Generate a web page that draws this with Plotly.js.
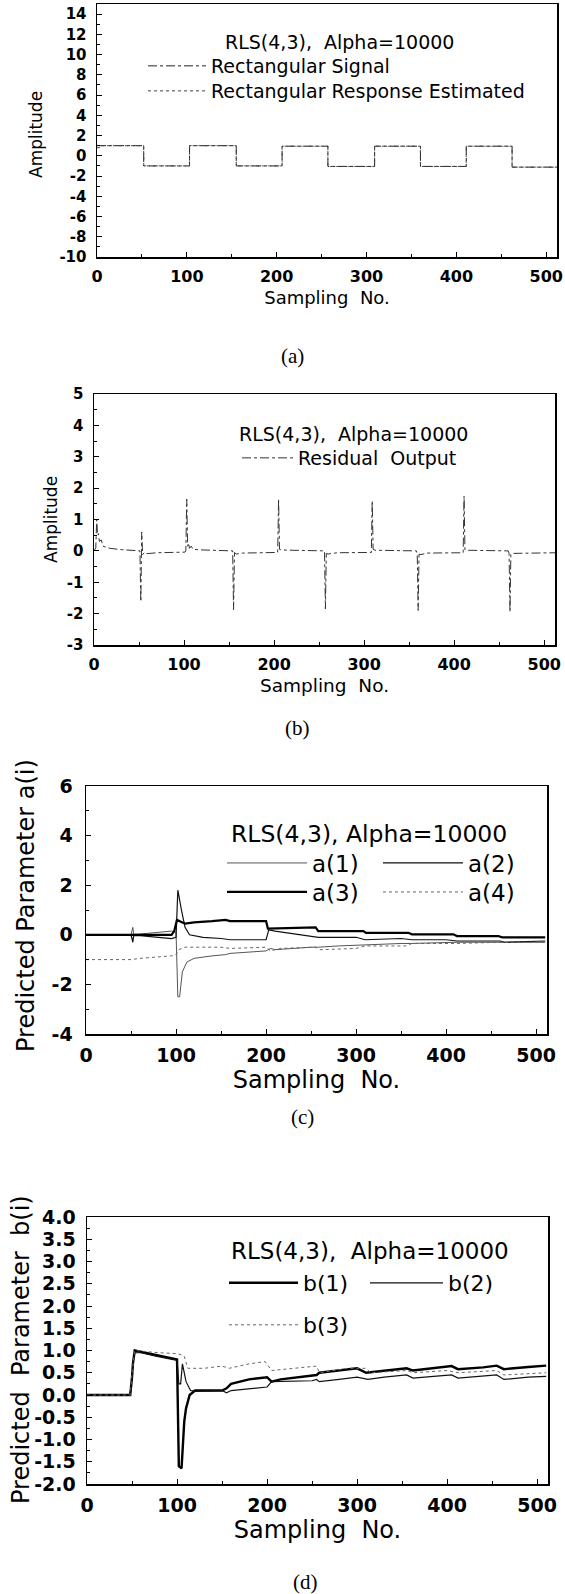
<!DOCTYPE html>
<html>
<head>
<meta charset="utf-8">
<script src="https://cdn.plot.ly/plotly-3.0.1.min.js"></script>
<style>html,body{margin:0;padding:0;background:#fff}#chart{width:565px;height:1594px}</style>
</head>
<body>
<div id="chart"></div>
<script>
// ---------- tick labels ----------
const xTickVals = [0, 100, 200, 300, 400, 500];
const xTickText = ['0', '100', '200', '300', '400', '500'];
const yTickValsA = [-10, -8, -6, -4, -2, 0, 2, 4, 6, 8, 10, 12, 14];
const yTickTextA = ['-10', '-8', '-6', '-4', '-2', '0', '2', '4', '6', '8', '10', '12', '14'];
const yTickValsB = [-3, -2, -1, 0, 1, 2, 3, 4, 5];
const yTickTextB = ['-3', '-2', '-1', '0', '1', '2', '3', '4', '5'];
const yTickValsC = [-4, -2, 0, 2, 4, 6];
const yTickTextC = ['-4', '-2', '0', '2', '4', '6'];
const yTickValsD = [-2, -1.5, -1, -0.5, 0, 0.5, 1, 1.5, 2, 2.5, 3, 3.5, 4];
const yTickTextD = ['-2.0', '-1.5', '-1.0', '-0.5', '0.0', '0.5', '1.0', '1.5', '2.0', '2.5', '3.0', '3.5', '4.0'];

// ---------- (a) rectangular signal ----------
const sigX = [0, 52, 103, 155, 206, 257, 309, 360, 411, 462, 512];
const sigY = [1.0, -1.0, 1.0, -1.0, 0.95, -1.05, 0.95, -1.05, 0.95, -1.12, -1.12];
const estX = [0, 3, 52, 103, 155, 206, 257, 309, 360, 411, 462, 512];
const estY = [0.8, 1.0, -1.0, 1.0, -1.0, 0.95, -1.05, 0.95, -1.05, 0.95, -1.12, -1.12];

// ---------- (b) residual output ----------
const resX = [0, 2, 3, 4, 5, 6, 8, 10, 13, 18, 30, 45, 51,
  52, 53, 54, 56, 58, 70, 101,
  102, 103, 104, 105, 106, 108, 110, 120, 153,
  154, 155, 156, 158, 165, 204,
  205, 206, 208, 220, 256,
  257, 258, 260, 270, 308,
  309, 310, 312, 358,
  359, 360, 361, 363, 370, 410,
  411, 412, 414, 460,
  461, 462, 463, 466, 512];
const resY = [0.0, 0.1, 1.0, 0.5, 0.55, 0.3, 0.35, 0.15, 0.12, 0.08, 0.04, 0.02, 0.0,
  -1.62, 0.6, -0.12, -0.05, -0.09, -0.06, -0.04,
  0.0, 1.65, 0.15, 0.25, 0.08, 0.15, 0.05, 0.03, 0.0,
  0.0, -1.88, -0.05, -0.1, -0.07, -0.05,
  1.65, 0.05, 0.03, 0.02, 0.0,
  -1.85, -0.08, -0.1, -0.06, -0.05,
  1.6, 0.05, 0.02, 0.0,
  -0.1, -1.9, -0.1, -0.12, -0.07, -0.06,
  1.75, 0.03, 0.02, 0.0,
  -0.08, -1.95, -0.1, -0.08, -0.06];

// ---------- (c) predicted parameters a(i) ----------
const a1X = [0, 50, 52, 53, 60, 95, 100, 102, 104, 107, 112, 120, 140, 155, 160, 200, 205, 210, 250, 258, 280, 308, 315, 350, 360, 400, 412, 460, 510];
const a1Y = [0, 0, 0.3, 0.02, 0.03, 0.15, 0.1, -2.5, -2.5, -1.5, -1.1, -0.95, -0.85, -0.8, -0.75, -0.65, -0.55, -0.6, -0.5, -0.5, -0.45, -0.4, -0.4, -0.35, -0.35, -0.3, -0.3, -0.3, -0.3];
const a2X = [0, 50, 52, 53, 60, 95, 100, 102, 106, 110, 115, 130, 150, 160, 200, 203, 210, 240, 258, 300, 310, 350, 362, 400, 412, 460, 465, 510];
const a2Y = [0, 0, -0.3, -0.02, -0.03, -0.15, -0.1, 1.8, 1.0, 0.3, 0.0, -0.1, -0.15, -0.2, -0.2, 0.2, 0.15, 0.0, -0.1, -0.1, -0.2, -0.15, -0.2, -0.2, -0.25, -0.25, -0.3, -0.25];
const a3X = [0, 95, 98, 101, 110, 120, 140, 155, 160, 200, 202, 240, 255, 258, 308, 311, 358, 362, 408, 412, 458, 462, 510];
const a3Y = [0, 0, 0.15, 0.6, 0.45, 0.5, 0.55, 0.6, 0.55, 0.55, 0.25, 0.3, 0.3, 0.15, 0.15, 0.08, 0.08, 0.02, 0.02, -0.05, -0.05, -0.1, -0.1];
const a4X = [0, 50, 60, 80, 95, 100, 103, 110, 150, 160, 200, 205, 215, 255, 260, 300, 310, 355, 362, 410, 460, 510];
const a4Y = [-1.0, -1.0, -0.95, -0.9, -0.85, -0.8, -0.6, -0.5, -0.5, -0.55, -0.5, -0.65, -0.55, -0.5, -0.6, -0.55, -0.45, -0.45, -0.35, -0.35, -0.3, -0.3];

// ---------- (d) predicted parameters b(i) ----------
const b1X = [0, 48, 50, 51, 53, 60, 75, 95, 100, 102, 105, 108, 110, 114, 120, 150, 155, 160, 180, 200, 205, 215, 250, 255, 258, 280, 300, 310, 330, 355, 362, 385, 405, 412, 440, 455, 463, 490, 510];
const b1Y = [0, 0, 0.4, 0.7, 1.0, 0.97, 0.9, 0.82, 0.8, -1.6, -1.65, -0.6, -0.3, 0.0, 0.1, 0.1, 0.15, 0.25, 0.35, 0.4, 0.3, 0.35, 0.45, 0.45, 0.5, 0.55, 0.6, 0.5, 0.55, 0.6, 0.55, 0.6, 0.65, 0.58, 0.62, 0.66, 0.58, 0.63, 0.66];
const b2X = [0, 48, 50, 51, 53, 60, 75, 95, 100, 102, 104, 106, 110, 115, 120, 150, 155, 160, 200, 205, 250, 255, 258, 280, 300, 312, 330, 355, 362, 385, 405, 412, 440, 455, 463, 490, 510];
const b2Y = [0, 0, 0.4, 0.7, 0.95, 0.95, 0.88, 0.8, 0.78, 0.25, 0.25, 0.7, 0.3, 0.1, 0.08, 0.1, 0.05, 0.1, 0.18, 0.3, 0.32, 0.35, 0.3, 0.35, 0.4, 0.35, 0.4, 0.45, 0.38, 0.42, 0.45, 0.38, 0.42, 0.45, 0.35, 0.4, 0.42];
const b3X = [0, 48, 50, 53, 80, 100, 105, 108, 112, 130, 150, 158, 180, 198, 205, 230, 255, 258, 290, 310, 315, 355, 362, 400, 412, 455, 463, 510];
const b3Y = [0, 0, 0.5, 1.0, 0.95, 0.93, 0.9, 0.87, 0.6, 0.6, 0.65, 0.6, 0.7, 0.75, 0.55, 0.6, 0.65, 0.5, 0.6, 0.6, 0.5, 0.55, 0.5, 0.55, 0.5, 0.55, 0.45, 0.5];

const W = 565, H = 1594;
const px = v => v / W;
const py = v => 1 - v / H;
const FAM = 'DejaVu Sans';
const bold = s => ({family: FAM, size: s, weight: 'bold', color: '#000'});

function xax(dom, anchor, font, titleSize, standoff) {
  return {
    domain: dom, anchor: anchor, range: [0, 512],
    tickmode: 'array', tickvals: xTickVals, ticktext: xTickText,
    showline: true, linecolor: '#000', linewidth: 1.5, mirror: true,
    ticks: 'inside', ticklen: 5, tickwidth: 1, tickcolor: '#000',
    minor: {tickmode: 'linear', tick0: 0, dtick: 50, ticks: 'inside', ticklen: 3, tickcolor: '#000'},
    showgrid: false, zeroline: false, tickfont: font, ticklabelstandoff: 4,
    title: {text: 'Sampling  No.', font: {family: FAM, size: titleSize, color: '#000'}, standoff: standoff},
    automargin: false
  };
}
function yax(dom, anchor, range, vals, text, minor, font, lstand) {
  return {
    domain: dom, anchor: anchor, range: range,
    tickmode: 'array', tickvals: vals, ticktext: text,
    showline: true, linecolor: '#000', linewidth: 1.5, mirror: true,
    ticks: 'inside', ticklen: 5, tickwidth: 1, tickcolor: '#000',
    minor: {tickmode: 'linear', tick0: 0, dtick: minor, ticks: 'inside', ticklen: 3, tickcolor: '#000'},
    showgrid: false, zeroline: false, tickfont: font, ticklabelstandoff: lstand,
    automargin: false
  };
}

const ln = (c, w, d) => ({color: c, width: w, dash: d});

const traces = [
  {x: sigX, y: sigY, mode: 'lines', line: Object.assign(ln('#222', 1, 'dashdot'), {shape: 'hv'}), name: 'Rectangular Signal', xaxis: 'x', yaxis: 'y', legend: 'legend'},
  {x: estX, y: estY, mode: 'lines', line: Object.assign(ln('#444', 1, 'dot'), {shape: 'hv'}), name: 'Rectangular Response Estimated', xaxis: 'x', yaxis: 'y', legend: 'legend2'},
  {x: resX, y: resY, mode: 'lines', line: ln('#333', 1, 'dashdot'), name: 'Residual  Output', xaxis: 'x2', yaxis: 'y2', legend: 'legend3'},
  {x: a1X, y: a1Y, mode: 'lines', line: ln('#555', 1, 'solid'), name: 'a(1)', xaxis: 'x3', yaxis: 'y3', legend: 'legend4'},
  {x: a2X, y: a2Y, mode: 'lines', line: ln('#111', 1.2, 'solid'), name: 'a(2)', xaxis: 'x3', yaxis: 'y3', legend: 'legend5'},
  {x: a3X, y: a3Y, mode: 'lines', line: ln('#000', 2.2, 'solid'), name: 'a(3)', xaxis: 'x3', yaxis: 'y3', legend: 'legend6'},
  {x: a4X, y: a4Y, mode: 'lines', line: ln('#666', 1, 'dot'), name: 'a(4)', xaxis: 'x3', yaxis: 'y3', legend: 'legend7'},
  {x: b1X, y: b1Y, mode: 'lines', line: ln('#000', 2.4, 'solid'), name: 'b(1)', xaxis: 'x4', yaxis: 'y4', legend: 'legend8'},
  {x: b2X, y: b2Y, mode: 'lines', line: ln('#111', 1.2, 'solid'), name: 'b(2)', xaxis: 'x4', yaxis: 'y4', legend: 'legend9'},
  {x: b3X, y: b3Y, mode: 'lines', line: ln('#666', 1, 'dot'), name: 'b(3)', xaxis: 'x4', yaxis: 'y4', legend: 'legend10'}
];

function leg(x, y, size, itemwidth) {
  return {x: px(x), y: py(y), xanchor: 'left', yanchor: 'middle', bgcolor: 'rgba(0,0,0,0)', borderwidth: 0,
    font: {family: FAM, size: size, color: '#000'}, itemwidth: itemwidth, tracegroupgap: 0,
    traceorder: 'normal', itemclick: false, itemdoubleclick: false};
}

const serif = {family: 'Liberation Serif', size: 21, color: '#000'};
function ann(text, x, y, font, xanchor, angle) {
  return {text: text, x: px(x), y: py(y), xref: 'paper', yref: 'paper', showarrow: false,
    xanchor: xanchor || 'center', yanchor: 'middle', font: font, textangle: angle || 0};
}
const reg = s => ({family: FAM, size: s, color: '#000'});

const layout = {
  width: W, height: H,
  margin: {l: 0, r: 0, t: 0, b: 0},
  paper_bgcolor: '#fff', plot_bgcolor: '#fff',
  showlegend: true,
  font: {family: FAM, color: '#000'},
  xaxis: xax([px(97), px(557)], 'y', bold(16), 18, 6),
  yaxis: yax([py(257), py(4)], 'x', [-10, 15], yTickValsA, yTickTextA, 1, bold(15), 6),
  xaxis2: xax([px(94), px(555)], 'y2', bold(16), 18.5, 6),
  yaxis2: yax([py(645), py(394)], 'x2', [-3, 5], yTickValsB, yTickTextB, 0.5, bold(15), 6),
  xaxis3: xax([px(86), px(547)], 'y3', bold(19), 24, 4),
  yaxis3: yax([py(1034), py(786)], 'x3', [-4, 6], yTickValsC, yTickTextC, 1, bold(19), 8),
  xaxis4: xax([px(87), px(548)], 'y4', bold(19), 24, 4),
  yaxis4: yax([py(1484), py(1217)], 'x4', [-2, 4], yTickValsD, yTickTextD, 0.25, bold(19), 6),
  legend: leg(143, 66, 19, 58),
  legend2: leg(143, 91, 19, 58),
  legend3: leg(237, 458, 19, 51),
  legend4: leg(222, 863, 23, 80),
  legend5: leg(378, 863, 23, 80),
  legend6: leg(222, 892, 23, 80),
  legend7: leg(378, 892, 23, 80),
  legend8: leg(224, 1283, 22, 69),
  legend9: leg(365, 1283, 22, 73),
  legend10: leg(224, 1325, 22, 69),
  annotations: [
    ann('Amplitude', 36, 135, reg(17), 'center', -90),
    ann('Amplitude', 51, 520, reg(17), 'center', -90),
    ann('Predicted Parameter a(i)', 26, 906, reg(24), 'center', -90),
    ann('Predicted  Parameter  b(i)', 21, 1350, reg(24), 'center', -90),
    ann('RLS(4,3),  Alpha=10000', 339, 42, reg(19)),
    ann('RLS(4,3),  Alpha=10000', 353, 434, reg(19)),
    ann('RLS(4,3), Alpha=10000', 229, 834, reg(23.5), 'left'),
    ann('RLS(4,3),  Alpha=10000', 229, 1251, reg(23), 'left'),
    ann('(a)', 292, 356, serif),
    ann('(b)', 297, 728, serif),
    ann('(c)', 302, 1117, serif),
    ann('(d)', 305, 1582, serif)
  ]
};

Plotly.newPlot('chart', traces, layout, {staticPlot: true, displayModeBar: false});
</script>
</body>
</html>
